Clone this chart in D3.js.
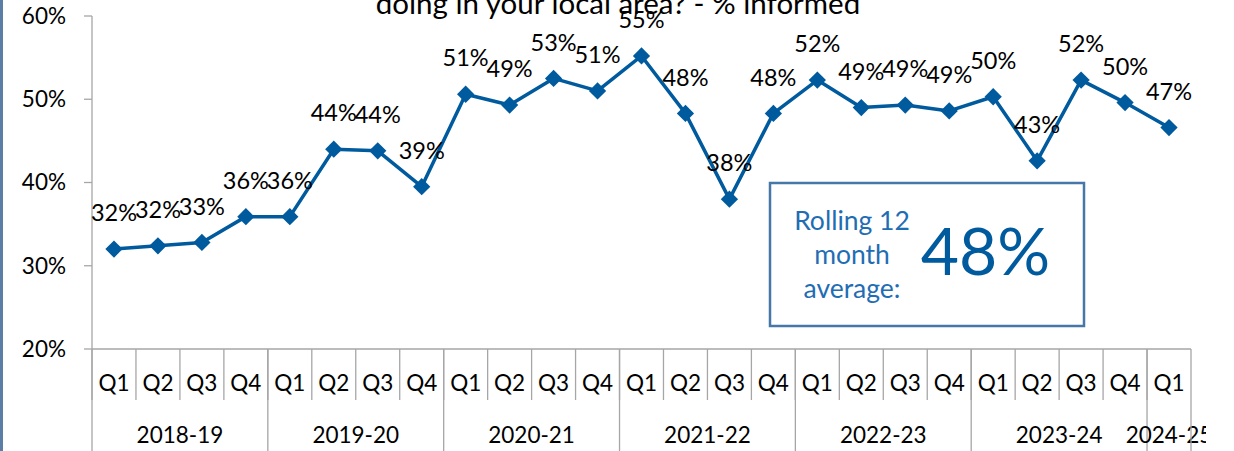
<!DOCTYPE html>
<html>
<head>
<meta charset="utf-8">
<script src="https://cdn.jsdelivr.net/npm/d3@7"></script>
<style>
  html, body { margin: 0; padding: 0; background: #fff; }
  svg { display: block; }
  text { font-family: Lato, "Open Sans", sans-serif; }
</style>
</head>
<body>
<svg id="chart" width="1234" height="451"></svg>
<script>
// ---- data ----
const years = ["2018-19", "2019-20", "2020-21", "2021-22", "2022-23", "2023-24", "2024-25"];
const quartersPerYear = [4, 4, 4, 4, 4, 4, 1];
const quarterLabels = ["Q1", "Q2", "Q3", "Q4"];
const values = [32.0, 32.4, 32.8, 35.9, 35.9, 44.0, 43.8, 39.5,
                50.6, 49.3, 52.5, 51.0, 55.2, 48.3, 38.0, 48.3,
                52.3, 49.0, 49.3, 48.6, 50.3, 42.6, 52.3, 49.6, 46.6];
const valueLabels = ["32%","32%","33%","36%","36%","44%","44%","39%",
                     "51%","49%","53%","51%","55%","48%","38%","48%",
                     "52%","49%","49%","49%","50%","43%","52%","50%","47%"];
const yTicks = [20, 30, 40, 50, 60];
const titleLine = "doing in your local area? - % informed";
const boxLines = ["Rolling 12", "month", "average:"];
const boxValue = "48%";

(function () {
const cats = [];
years.forEach((yr, yi) => {
  for (let q = 0; q < quartersPerYear[yi]; q++) cats.push({ year: yr, q: quarterLabels[q], id: yr + "-" + quarterLabels[q] });
});
cats.forEach((c, i) => { c.value = values[i]; c.label = valueLabels[i]; });

const svg = d3.select("#chart");
const pLeft = 92, pRight = 1191, pTop = 16, pBottom = 349;

const x = d3.scaleBand().domain(cats.map(c => c.id)).range([pLeft, pRight]).padding(0);
const y = d3.scaleLinear().domain([20, 60]).range([pBottom, pTop]);

const gridColor = "#a6a6a6";
const lineColor = "#005a9e";

// left border
svg.append("rect").attr("x", 0).attr("y", 0).attr("width", 3).attr("height", 451).attr("fill", "#5a7ea6");

// title (second line, partially clipped at top as in the reference)
svg.append("text").attr("x", 618).attr("y", 14).attr("text-anchor", "middle")
  .attr("font-size", 29.5).attr("fill", "#000").text(titleLine);

// y axis
const yAxis = svg.append("g");
yAxis.append("line").attr("x1", pLeft).attr("x2", pLeft).attr("y1", pTop).attr("y2", pBottom)
  .attr("stroke", gridColor).attr("stroke-width", 1.3);
yTicks.forEach(t => {
  yAxis.append("line").attr("x1", pLeft - 8).attr("x2", pLeft).attr("y1", y(t)).attr("y2", y(t))
    .attr("stroke", gridColor).attr("stroke-width", 1.3);
  yAxis.append("text").attr("x", 66).attr("y", y(t)).attr("dy", "0.35em").attr("text-anchor", "end")
    .attr("font-size", 22.5).attr("fill", "#000").text(t + "%");
});

// x axis
const xAxis = svg.append("g");
xAxis.append("line").attr("x1", pLeft).attr("x2", pRight).attr("y1", pBottom).attr("y2", pBottom)
  .attr("stroke", gridColor).attr("stroke-width", 1.3);
cats.forEach((c) => {
  const xb = x(c.id);
  xAxis.append("line").attr("x1", xb).attr("x2", xb).attr("y1", pBottom).attr("y2", 400)
    .attr("stroke", gridColor).attr("stroke-width", 1.3);
  xAxis.append("text").attr("x", xb + x.bandwidth() / 2).attr("y", 383).attr("dy", "0.35em")
    .attr("text-anchor", "middle").attr("font-size", 22.5).attr("fill", "#000").text(c.q);
});
let idx = 0;
const yearBounds = [];
years.forEach((yr, yi) => {
  const start = x(cats[idx].id);
  idx += quartersPerYear[yi];
  const end = idx < cats.length ? x(cats[idx].id) : pRight;
  yearBounds.push({ yr, start, end });
});
const clip = svg.append("clipPath").attr("id", "yclip");
clip.append("rect").attr("x", 0).attr("y", 0).attr("width", 1206).attr("height", 451);
yearBounds.forEach(b => {
  xAxis.append("line").attr("x1", b.start).attr("x2", b.start).attr("y1", pBottom).attr("y2", 451)
    .attr("stroke", gridColor).attr("stroke-width", 1.3);
  xAxis.append("text").attr("x", (b.start + b.end) / 2).attr("y", 435).attr("dy", "0.35em")
    .attr("text-anchor", "middle").attr("font-size", 22.5).attr("fill", "#000")
    .attr("clip-path", "url(#yclip)").text(b.yr);
});
xAxis.append("line").attr("x1", pRight).attr("x2", pRight).attr("y1", pBottom).attr("y2", 451)
  .attr("stroke", gridColor).attr("stroke-width", 1.3);

// line
const cx = c => x(c.id) + x.bandwidth() / 2;
svg.append("path").datum(cats)
  .attr("d", d3.line().x(cx).y(c => y(c.value)))
  .attr("fill", "none").attr("stroke", lineColor).attr("stroke-width", 3.5).attr("stroke-linejoin", "round");

// markers
svg.append("g").selectAll("path").data(cats).join("path")
  .attr("transform", c => `translate(${cx(c)},${y(c.value)})`)
  .attr("d", d3.symbol().type(d3.symbolDiamond2).size(190))
  .attr("fill", lineColor);

// labels
svg.append("g").selectAll("text").data(cats).join("text")
  .attr("x", cx).attr("y", c => y(c.value) - 36).attr("dy", "0.35em")
  .attr("text-anchor", "middle").attr("font-size", 23.5).attr("fill", "#000")
  .text(c => c.label);

// rolling average box
const box = svg.append("g");
box.append("rect").attr("x", 770).attr("y", 183).attr("width", 314).attr("height", 143)
  .attr("fill", "#fff").attr("stroke", "#4677a8").attr("stroke-width", 2.5);
boxLines.forEach((t, i) => {
  box.append("text").attr("x", 852).attr("y", 230 + i * 34).attr("text-anchor", "middle")
    .attr("font-size", 26.5).attr("fill", "#1f6db3").text(t);
});
box.append("text").attr("x", 985.5).attr("y", 275).attr("text-anchor", "middle")
  .attr("font-size", 66).attr("fill", lineColor).text(boxValue);
})();
</script>
</body>
</html>
